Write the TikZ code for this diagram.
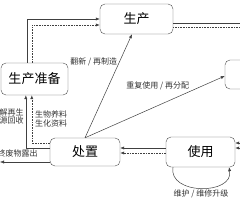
\documentclass[tikz,border=0pt]{standalone}
\usepackage{fontspec}
\newfontfamily\cjk{Noto Sans CJK SC}
\usetikzlibrary{positioning,arrows.meta}

\begin{document}
\begin{tikzpicture}[x=1pt, y=-1pt, font=\cjk, >={Latex[length=4pt,width=3.2pt]},
    stage/.style={draw=black!70, rounded corners=5pt, inner sep=0pt, font=\cjk\fontsize{13}{13}\selectfont},
    flow/.style={->, black!75, line width=0.5pt},
    flowdot/.style={->, black!75, line width=0.6pt, densely dotted},
    lab/.style={font=\cjk\fontsize{8}{8.5}\selectfont, black!80, inner sep=0pt}]
    \useasboundingbox (0,0) rectangle (240,200);
    \node[stage, minimum width=67pt, minimum height=32pt] (prep) at (34.5,79) {生产准备};
    \node[stage, minimum width=73pt, minimum height=30pt] (prod) at (136.5,19) {生产};
    \node[stage, minimum width=65pt, minimum height=29pt] (dist) at (257.5,74.5) {};
    \node[stage, minimum width=70pt, minimum height=28pt] (disp) at (85,152) {处置};
    \node[stage, minimum width=69pt, minimum height=30pt] (use) at (200.5,152) {使用};
    \coordinate (wasteout) at (0,162);

    % prep -> prod
    \draw[flow] ([xshift=26pt]prep.north west) |- (prod.west);
    \draw[flowdot] ([xshift=31pt]prep.north west) |- ([yshift=-6pt]prod.west);
    % prod -> off to the right
    \draw[black!75, line width=0.5pt] ([yshift=-4pt]prod.east) -- ++(80,0);
    \draw[black!75, line width=0.6pt, densely dotted] ([yshift=-8pt]prod.east) -- ++(80,0);
    % disposal loops
    \draw[flow] (disp.north) -- ([xshift=-4.5pt]prod.south)
      node[lab, pos=0.73, left=2pt] {翻新 / 再制造};
    \draw[flow] (disp.north) -- ([yshift=-1.5pt]dist.west)
      node[lab, pos=0.52, above=15pt] {重复使用 / 再分配};
    \draw[flow] ([yshift=4pt]disp.west) -| ([xshift=25pt]prep.south west)
      node[lab, pos=0.8, left=2pt, align=right] {拆解再生\\资源回收};
    \draw[flowdot] ([yshift=9pt]disp.west) -| ([xshift=31pt]prep.south west)
      node[lab, pos=0.75, right=3pt, align=left] {生物养料\\生化资料};
    \draw[flow] ([yshift=-10pt]disp.west) -- (wasteout)
      node[lab, pos=0.24, anchor=south east, yshift=5pt] {最终废物露出};
    % use
    \draw[flow] ([yshift=4pt]use.west) -- ([yshift=4pt]disp.east);
    \draw[flowdot] ([yshift=-1pt]use.west) -- ([yshift=-1pt]disp.east);
    \draw[<-, black!75, line width=0.5pt] ([yshift=9pt]use.east) -- ++(12,0);
    \draw[<-, black!75, line width=0.6pt, densely dotted] ([yshift=4pt]use.east) -- ++(12,0);
    \draw[flow] ([xshift=-27.5pt]use.south) .. controls +(-5,28) and +(5,28) .. ([xshift=28.5pt]use.south)
      node[lab, pos=0.5, below=1pt] {维护 / 维修升级};
\end{tikzpicture}
\end{document}
